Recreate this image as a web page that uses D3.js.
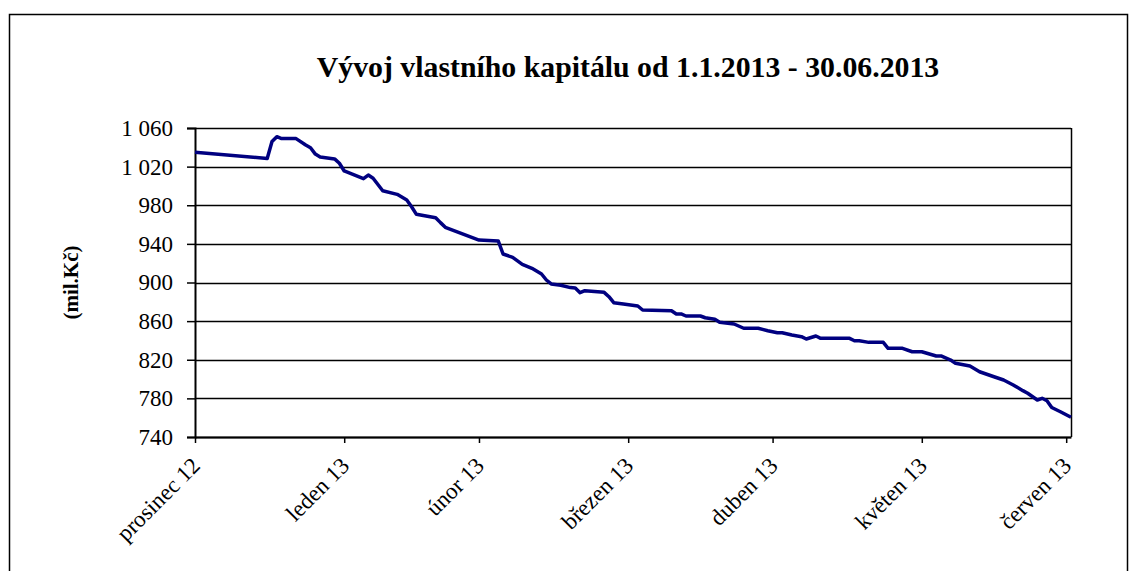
<!DOCTYPE html>
<html>
<head>
<meta charset="utf-8">
<script src="https://cdn.jsdelivr.net/npm/d3@7"></script>
<style>
  html, body { margin: 0; padding: 0; background: #fff; }
  svg { display: block; }
</style>
</head>
<body>
<svg id="chart" width="1137" height="571"></svg>
<script>
// ---- data ----
const chartTitle = "Vývoj vlastního kapitálu od 1.1.2013 - 30.06.2013";
const yAxisTitle = "(mil.Kč)";
const dates = [
  "2013-01-01","2013-01-16","2013-01-17","2013-01-18","2013-01-19","2013-01-22",
  "2013-01-24","2013-01-25","2013-01-26","2013-01-27","2013-01-30","2013-01-31",
  "2013-02-01","2013-02-05","2013-02-06","2013-02-07","2013-02-09","2013-02-12",
  "2013-02-14","2013-02-15","2013-02-16","2013-02-20","2013-02-21","2013-02-22",
  "2013-03-01","2013-03-05","2013-03-06","2013-03-08","2013-03-10","2013-03-12",
  "2013-03-14","2013-03-15","2013-03-16","2013-03-18","2013-03-20","2013-03-21",
  "2013-03-22","2013-03-23","2013-03-27","2013-03-28","2013-03-29","2013-03-31",
  "2013-04-03","2013-04-04","2013-04-10","2013-04-11","2013-04-12","2013-04-13",
  "2013-04-16","2013-04-17","2013-04-19","2013-04-20","2013-04-23","2013-04-25",
  "2013-04-28","2013-04-30","2013-05-02","2013-05-03","2013-05-05","2013-05-07",
  "2013-05-08","2013-05-10","2013-05-11","2013-05-17","2013-05-18","2013-05-19",
  "2013-05-21","2013-05-24","2013-05-25","2013-05-28","2013-05-30","2013-06-01",
  "2013-06-04","2013-06-05","2013-06-07","2013-06-08","2013-06-11","2013-06-13",
  "2013-06-16","2013-06-18","2013-06-20","2013-06-22","2013-06-23","2013-06-25",
  "2013-06-26","2013-06-27","2013-06-28","2013-06-30","2013-07-02"
];
const equity = [
  1035, 1028.5, 1046, 1051, 1049, 1049,
  1042.4, 1039.6, 1033, 1030, 1028, 1023.5,
  1015.5, 1007.5, 1011.3, 1008, 995, 991.3,
  985.4, 978.5, 970.6, 967.1, 962, 957.2,
  944, 943, 929.5, 926, 918.8, 914.7,
  908.8, 902.6, 898.5, 897.1, 894.7, 894.3,
  889.4, 891.5, 889.8, 885.3, 879.1, 877.7,
  875.7, 871.5, 870.8, 867.4, 867.4, 865.3,
  865.3, 863.5, 861.9, 858.8, 857, 852.6,
  852.6, 850.1, 848, 848, 845.6, 843.9,
  841.5, 844.6, 842.2, 842.2, 839.7, 839.7,
  838, 838, 831.8, 831.8, 828.3, 828.3,
  823.9, 823.9, 819.7, 816.3, 813.5, 807.6,
  802.4, 799, 793.9, 788, 785.3, 778.3,
  780.1, 777.6, 770.5, 765.6, 760.4
];
const yTicks = [740, 780, 820, 860, 900, 940, 980, 1020, 1060];
const xTickDates = ["2013-01-01","2013-02-01","2013-03-01","2013-04-01","2013-05-01","2013-06-01","2013-07-01"];
const xTickLabels = ["prosinec 12","leden 13","únor 13","březen 13","duben 13","květen 13","červen 13"];
const xDomain = ["2013-01-01","2013-07-02"];
const yDomain = [740, 1060];

// ---- drawing ----
const FONT = '"Liberation Serif"';
const parse = d3.utcParse("%Y-%m-%d");
const data = dates.map((d, i) => ({ date: parse(d), value: equity[i] }));

const svg = d3.select("#chart");
const plot = { left: 195, right: 1071, top: 128, bottom: 437 };

const x = d3.scaleUtc().domain(xDomain.map(parse)).range([plot.left, plot.right]);
const y = d3.scaleLinear().domain(yDomain).range([plot.bottom, plot.top]);

const locale = d3.formatLocale({ decimal: ",", thousands: " ", grouping: [3], currency: ["", " Kč"] });
const fmt = locale.format(",d");

// outer frame
svg.append("rect")
  .attr("x", 9.5).attr("y", 14.5)
  .attr("width", 1118).attr("height", 620)
  .attr("fill", "none").attr("stroke", "#000").attr("stroke-width", 1.5);

// title
svg.append("text")
  .attr("x", 628).attr("y", 77)
  .attr("text-anchor", "middle")
  .style("font-family", FONT)
  .style("font-size", "29.8px").style("font-weight", "bold")
  .text(chartTitle);

// y axis title
svg.append("text")
  .attr("transform", `translate(78,${(plot.top + plot.bottom) / 2}) rotate(-90)`)
  .attr("text-anchor", "middle")
  .style("font-family", FONT)
  .style("font-size", "21px").style("font-weight", "bold")
  .text(yAxisTitle);

// gridlines
svg.append("g")
  .selectAll("line")
  .data(yTicks)
  .join("line")
  .attr("x1", plot.left).attr("x2", plot.right)
  .attr("y1", d => Math.round(y(d)) + 0.5).attr("y2", d => Math.round(y(d)) + 0.5)
  .attr("stroke", "#000").attr("stroke-width", 1.5);

// right border of plot area
svg.append("line")
  .attr("x1", plot.right + 0.5).attr("x2", plot.right + 0.5)
  .attr("y1", plot.top).attr("y2", plot.bottom)
  .attr("stroke", "#000").attr("stroke-width", 1.5);

// y axis
const yAxis = svg.append("g")
  .attr("transform", `translate(${plot.left},0)`)
  .call(d3.axisLeft(y).tickValues(yTicks).tickFormat(fmt).tickSize(8).tickPadding(14));
yAxis.selectAll("text").style("font-size", "23px").style("font-family", FONT);
yAxis.select(".domain").attr("stroke-width", 2);
yAxis.selectAll(".tick line").attr("stroke-width", 1.5);

// x axis
const xAxis = svg.append("g")
  .attr("transform", `translate(0,${plot.bottom})`)
  .call(d3.axisBottom(x)
    .tickValues(xTickDates.map(parse))
    .tickFormat((d, i) => xTickLabels[i])
    .tickSize(6).tickSizeOuter(0));
xAxis.select(".domain").attr("stroke-width", 2);
xAxis.selectAll(".tick line").attr("stroke-width", 1.5);
xAxis.selectAll("text")
  .style("font-size", "23px")
  .style("font-family", FONT)
  .attr("text-anchor", "end")
  .attr("x", 0).attr("y", 0).attr("dy", 0)
  .attr("transform", "translate(6,30) rotate(-45)");

// line
const line = d3.line().x(d => x(d.date)).y(d => y(d.value));
svg.append("path")
  .datum(data)
  .attr("fill", "none")
  .attr("stroke", "#000080")
  .attr("stroke-width", 3.5)
  .attr("stroke-linejoin", "round")
  .attr("d", line);
</script>
</body>
</html>
